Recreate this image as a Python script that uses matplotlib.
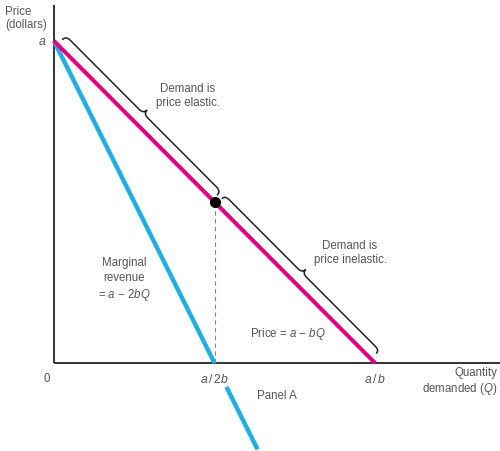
import numpy as np
import matplotlib
matplotlib.use("Agg")
import matplotlib.pyplot as plt
from matplotlib.path import Path
from matplotlib.patches import PathPatch

plt.rcParams["font.family"] = ["Liberation Sans", "DejaVu Sans"]
plt.rcParams["mathtext.fontset"] = "custom"
plt.rcParams["mathtext.rm"] = "Liberation Sans"
plt.rcParams["mathtext.it"] = "Liberation Sans:italic"

# model: P = a - bQ, MR = a - 2bQ  (a = b = 1 in chart units)
a = 1.0
b = 1.0
demand_q = np.array([0.0, a / b])
mr_q_top = np.array([0.0, a / (2 * b)])
mr_q_bottom = np.array([0.537, 0.634])   # piece drawn below the Q axis
mid_q = a / (2 * b)
mid_p = a - b * mid_q

TXT = "#555555"
MAGENTA = "#e6007e"
BLUE = "#1cb0e6"


def brace(ax, p0, p1, d_end=5, d_main=12, d_tip=17, r=6, inset0=0, inset1=0):
    # curly brace drawn in pixel space alongside the segment p0 -> p1
    s = ax.transData.transform(p0)
    e = ax.transData.transform(p1)
    t = (e - s) / np.linalg.norm(e - s)
    n = np.array([-t[1], t[0]])
    if n[0] < 0:
        n = -n
    s = s + t * inset0
    e = e - t * inset1
    L = np.linalg.norm(e - s)

    def P(u, v):
        return s + t * u + n * v

    verts = [P(0, d_end), P(0, d_main), P(r, d_main),
             P(L / 2 - r, d_main), P(L / 2, d_main), P(L / 2, d_tip),
             P(L / 2, d_main), P(L / 2 + r, d_main),
             P(L - r, d_main), P(L, d_main), P(L, d_end)]
    codes = [Path.MOVETO, Path.CURVE3, Path.CURVE3,
             Path.LINETO, Path.CURVE3, Path.CURVE3,
             Path.CURVE3, Path.CURVE3,
             Path.LINETO, Path.CURVE3, Path.CURVE3]
    patch = PathPatch(Path(verts, codes), fill=False, lw=1.1,
                      edgecolor="#222222", transform=None, capstyle="round")
    ax.add_artist(patch)


fig = plt.figure(figsize=(5.0, 4.52), dpi=100)
ax = fig.add_axes([0, 0, 1, 1])
ax.set_xlim(-0.168, 1.389)
ax.set_ylim(-0.273, 1.130)
ax.axis("off")

# axes lines
ax.plot([0, 0], [0, 1.112], color="#333333", lw=1.4, solid_capstyle="butt")
ax.plot([0, 1.389], [0, 0], color="#333333", lw=1.4, solid_capstyle="butt")

# dashed guide at a/2b
ax.plot([mid_q, mid_q], [0, mid_p], color="#888888", lw=0.8, dashes=(4, 3))

# curves
ax.plot(mr_q_top, a - 2 * b * mr_q_top, color=BLUE, lw=3.2, solid_capstyle="butt")
ax.plot(mr_q_bottom, a - 2 * b * mr_q_bottom, color=BLUE, lw=3.2, solid_capstyle="butt")
ax.plot(demand_q, a - b * demand_q, color=MAGENTA, lw=2.9, solid_capstyle="butt")
ax.plot([mid_q], [mid_p], "o", color="black", ms=7)

fig.canvas.draw()
brace(ax, (0, a), (mid_q, mid_p), inset0=5, inset1=3, d_end=7)
brace(ax, (mid_q, mid_p), (a / b, 0), inset0=3, inset1=6, d_end=8)

fs = 8.3
ax.text(-0.153, 1.112, "Price\n(dollars)", ha="left", va="top", fontsize=fs,
        color=TXT, linespacing=1.1)
ax.text(-0.025, a, "$a$", ha="right", va="center", fontsize=fs + 0.5, color=TXT)
ax.text(-0.022, -0.047, "0", ha="center", va="center", fontsize=fs, color=TXT)
ax.text(mid_q, -0.047, "$a\\,/\\,2b$", ha="center", va="center", fontsize=fs + 0.5, color=TXT)
ax.text(a / b, -0.047, "$a\\,/\\,b$", ha="center", va="center", fontsize=fs + 0.5, color=TXT)
ax.text(1.382, -0.055, "Quantity\ndemanded ($Q$)", ha="right", va="center",
        fontsize=fs, color=TXT, linespacing=1.15)
ax.text(0.695, -0.099, "Panel A", ha="center", va="center", fontsize=fs, color=TXT)
ax.text(0.417, 0.832, "Demand is\nprice elastic.", ha="center", va="center",
        fontsize=fs, color=TXT, linespacing=1.2)
ax.text(0.922, 0.345, "Demand is\nprice inelastic.", ha="center", va="center",
        fontsize=fs, color=TXT, linespacing=1.2)
ax.text(0.218, 0.261, "Marginal\nrevenue\n= $a$ − 2$bQ$", ha="center", va="center",
        fontsize=fs, color=TXT, linespacing=1.3)
ax.text(0.729, 0.093, "Price = $a$ − $bQ$", ha="center", va="center",
        fontsize=fs, color=TXT)

fig.savefig("out.png", dpi=100)
